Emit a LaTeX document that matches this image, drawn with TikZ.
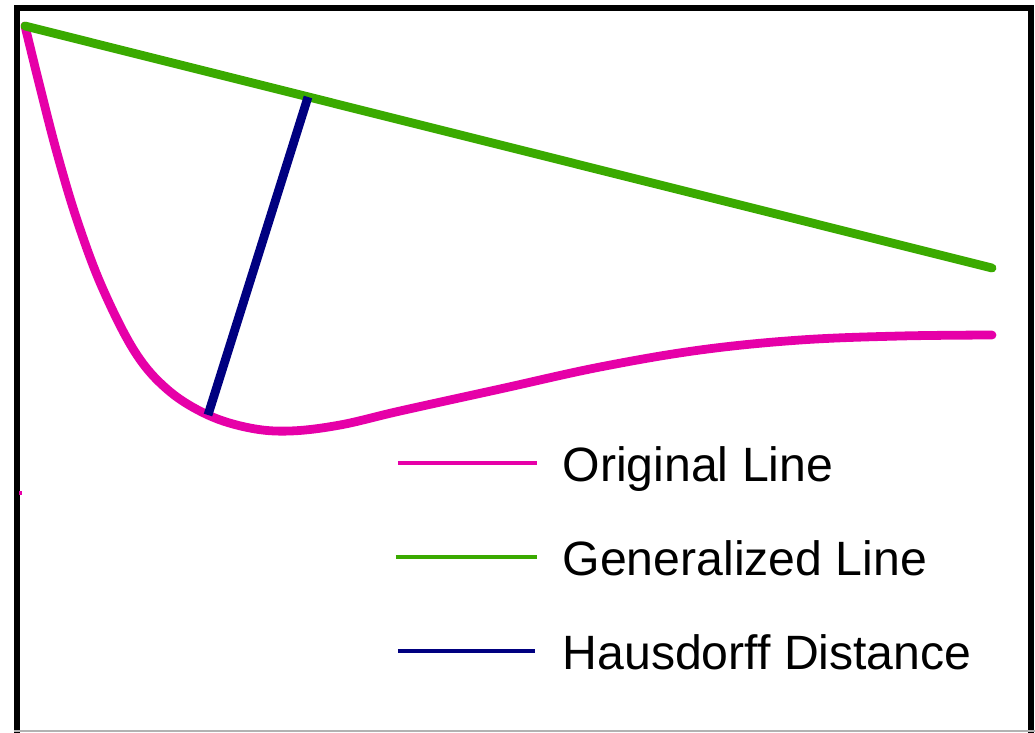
\documentclass[tikz,border=0pt]{standalone}
\usepackage{fontspec}
\setmainfont{Liberation Sans}
\definecolor{origpink}{RGB}{230,0,168}
\definecolor{gengreen}{RGB}{58,170,0}
\definecolor{hausblue}{RGB}{0,0,128}
\tikzset{
  curve/.style={line width=2.5pt, line cap=round, line join=round},
  legline/.style={line width=1.2pt},
  legtext/.style={anchor=base west, inner sep=0pt, font=\fontsize{13.7pt}{16pt}\selectfont},
  frame/.style={line width=1.75pt, black}
}
\begin{document}
\begin{tikzpicture}[x=0.01cm,y=-0.01cm]
\useasboundingbox (0,0) rectangle (1035,732);
\fill[white] (0,0) rectangle (1035,732);
% frame
\draw[frame] (17,745) -- (17,8) -- (1031,8) -- (1031,745);
\draw[gray!60, line width=0.4pt] (14,731) -- (1035,731);
% small pink mark on the frame
\fill[origpink] (19,491) rectangle (22,495);
% key points
\coordinate (start) at (25,26);
\coordinate (gend) at (992,268);
\coordinate (pend) at (992,335);
\coordinate (low) at (208,415);
\coordinate (top) at (308,97);
% original line
\draw[curve, origpink] plot[smooth, tension=0.6] coordinates {
  (25,26) (40,87) (57,153) (77,220) (102,287) (135,352) (168,390) (208,415)
  (250,428) (290,431) (340,425) (400,411) (500,389) (600,367) (700,350)
  (800,340) (900,336) (992,335)};
% generalized line
\draw[curve, gengreen] (start) -- (gend);
% hausdorff distance
\draw[curve, hausblue, line cap=butt] (low) -- (top);
% legend
\coordinate (l1a) at (398,463); \coordinate (l1b) at (537,463);
\coordinate (l2a) at (396,557); \coordinate (l2b) at (537,557);
\coordinate (l3a) at (398,651); \coordinate (l3b) at (535,651);
\draw[legline, origpink] (l1a) -- (l1b);
\draw[legline, gengreen] (l2a) -- (l2b);
\draw[legline, hausblue] (l3a) -- (l3b);
\node[legtext] (t1) at (562,481) {Original Line};
\node[legtext] (t2) at (562,575) {Generalized Line};
\node[legtext] (t3) at (562,669) {Hausdorff Distance};
\end{tikzpicture}
\end{document}
